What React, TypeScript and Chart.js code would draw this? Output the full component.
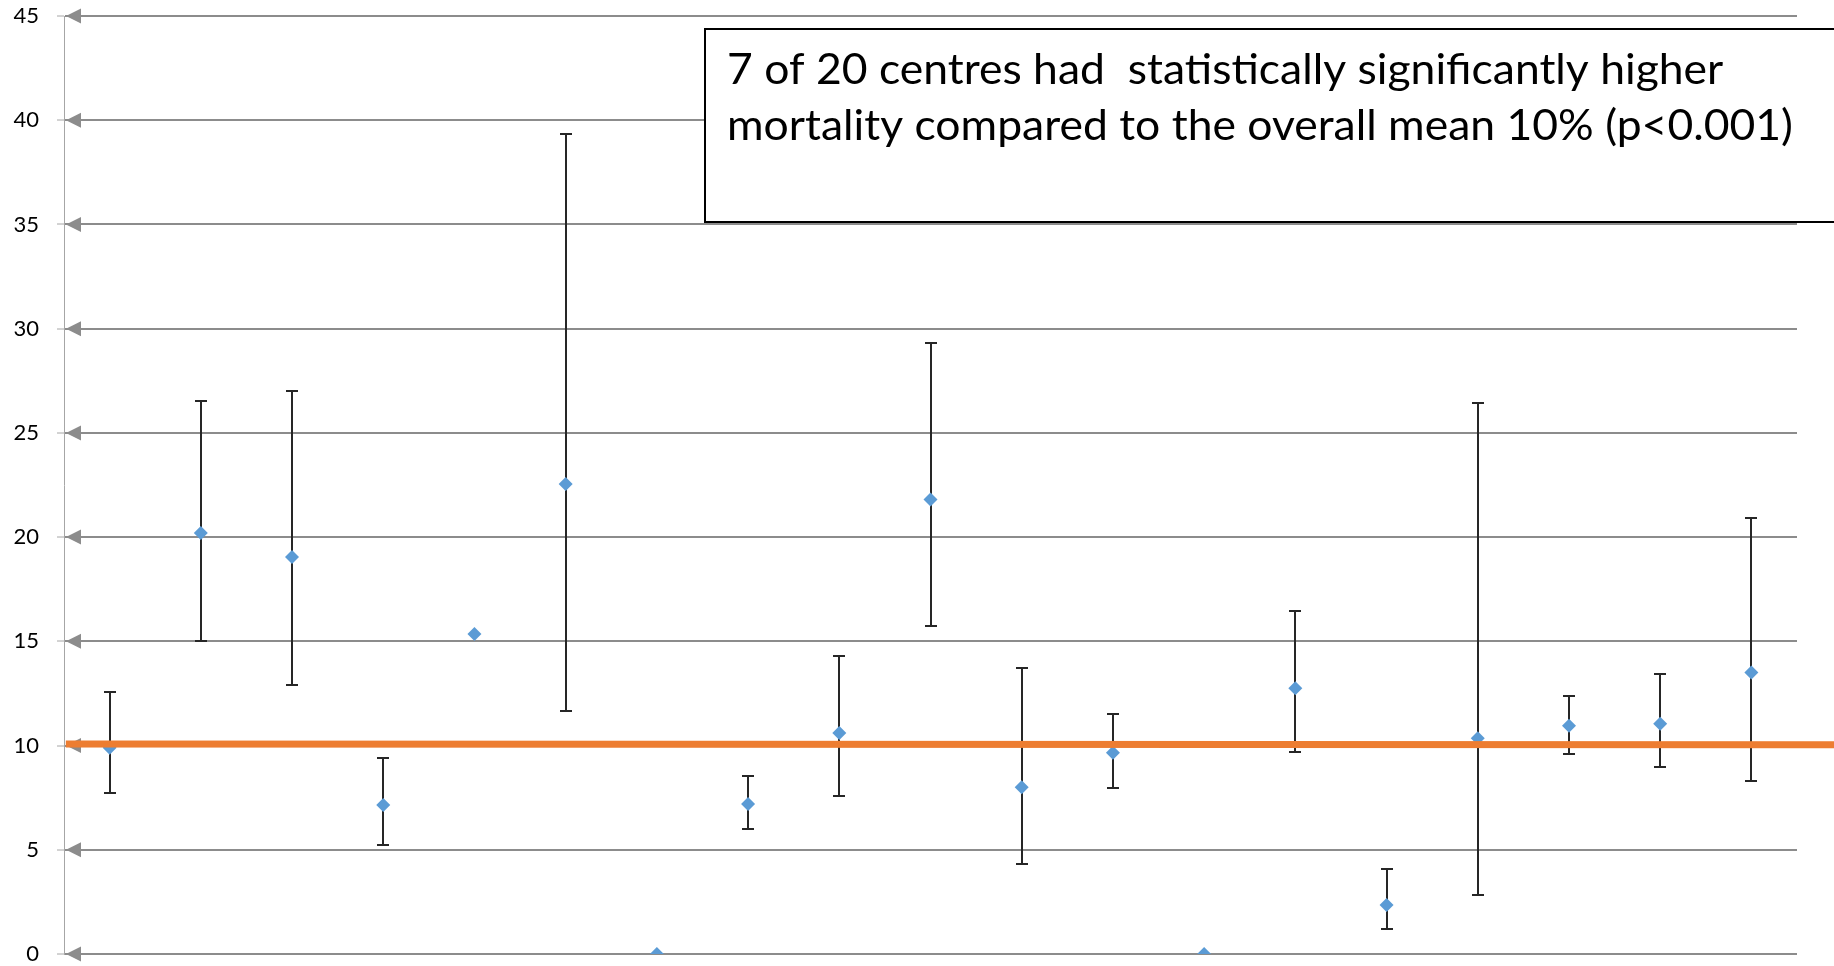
import React, { useEffect, useRef } from 'react';
import { Chart, registerables } from 'chart.js';

Chart.register(...registerables);

// ---- data ----
const centres = ['1', '2', '3', '4', '5', '6', '7', '8', '9', '10', '11', '12', '13', '14', '15', '16', '17', '18', '19'];
const mortality = [9.9, 20.2, 19.05, 7.15, 15.35, 22.55, 0, 7.2, 10.6, 21.8, 8.0, 9.65, 0, 12.75, 2.35, 10.35, 10.95, 11.05, 13.5];
const ciLower = [7.7, 15.0, 12.9, 5.25, null, 11.65, null, 6.0, 7.6, 15.75, 4.3, 7.95, null, 9.7, 1.2, 2.85, 9.6, 8.95, 8.3];
const ciUpper = [12.55, 26.55, 27.0, 9.4, null, 39.35, null, 8.55, 14.3, 29.3, 13.7, 11.5, null, 16.45, 4.1, 26.45, 12.4, 13.45, 20.9];
const overallMean = [10.08, 10.04];
const yTickValues = [0, 5, 10, 15, 20, 25, 30, 35, 40, 45];
const noteLines = [
  '7 of 20 centres had  statistically significantly higher',
  'mortality compared to the overall mean 10% (p<0.001)',
];

const FONT = 'Lato, "Open Sans", sans-serif';

const axisArrows = {
  id: 'axisArrows',
  beforeDatasetsDraw(chart: any) {
    const { ctx, chartArea, scales } = chart;
    const y = scales.y;
    ctx.save();
    ctx.fillStyle = '#8c8c8c';
    for (const t of y.ticks) {
      const py = y.getPixelForValue(t.value);
      ctx.beginPath();
      ctx.moveTo(chartArea.left + 2, py);
      ctx.lineTo(chartArea.left + 17, py - 7.5);
      ctx.lineTo(chartArea.left + 17, py + 7.5);
      ctx.closePath();
      ctx.fill();
    }
    ctx.restore();
  },
};

const errorBars = {
  id: 'errorBars',
  beforeDatasetsDraw(chart: any) {
    const { ctx, scales } = chart;
    const x = scales.x;
    const y = scales.y;
    ctx.save();
    ctx.strokeStyle = '#262626';
    ctx.lineWidth = 2;
    for (let i = 0; i < centres.length; i++) {
      const lo = ciLower[i];
      const hi = ciUpper[i];
      if (lo == null || hi == null) continue;
      const px = Math.round(x.getPixelForValue(i + 0.5));
      const pLo = Math.round(y.getPixelForValue(lo));
      const pHi = Math.round(y.getPixelForValue(hi));
      ctx.beginPath();
      ctx.moveTo(px, pHi);
      ctx.lineTo(px, pLo);
      ctx.moveTo(px - 6, pHi);
      ctx.lineTo(px + 6, pHi);
      ctx.moveTo(px - 6, pLo);
      ctx.lineTo(px + 6, pLo);
      ctx.stroke();
    }
    ctx.restore();
  },
};

const noteBox = {
  id: 'noteBox',
  afterDraw(chart: any) {
    const { ctx } = chart;
    const left = 705;
    const top = 29;
    const bottom = 222;
    const right = chart.width + 10;
    ctx.save();
    ctx.fillStyle = '#ffffff';
    ctx.fillRect(left, top, right - left, bottom - top);
    ctx.strokeStyle = '#000000';
    ctx.lineWidth = 2;
    ctx.strokeRect(left, top, right - left, bottom - top);
    const size = 43;
    ctx.font = `${size}px ${FONT}`;
    const w = ctx.measureText(noteLines[1]).width;
    const sx = 1066 / w;
    ctx.fillStyle = '#000000';
    ctx.textBaseline = 'alphabetic';
    ctx.textAlign = 'left';
    ctx.translate(727, 0);
    ctx.scale(sx, 1);
    ctx.fillText(noteLines[0], 0, 84);
    ctx.fillText(noteLines[1], 0, 140);
    ctx.restore();
  },
};

export default function App() {
  const ref = useRef<HTMLCanvasElement>(null);
  useEffect(() => {
    if (!ref.current) return;
    const chart = new Chart(ref.current, {
      type: 'scatter',
      data: {
        datasets: [
          {
            type: 'line',
            label: 'Overall mean',
            data: [
              { x: 0.02, y: overallMean[0] },
              { x: 20, y: overallMean[1] },
            ],
            borderColor: '#ED7D31',
            borderWidth: 7,
            pointRadius: 0,
            clip: false as any,
            order: 0,
          } as any,
          {
            label: 'Mortality',
            data: mortality.map((v, i) => ({ x: i + 0.5, y: v })),
            backgroundColor: '#5B9BD5',
            borderColor: '#5B9BD5',
            borderWidth: 0,
            pointStyle: 'rectRot',
            pointRadius: 7,
            order: 1,
          },
        ],
      },
      options: {
        animation: false,
        responsive: true,
        maintainAspectRatio: false,
        devicePixelRatio: 1,
        events: [],
        layout: { padding: { left: 0, right: 37, top: 16, bottom: 12 } },
        plugins: { legend: { display: false }, tooltip: { enabled: false } },
        scales: {
          x: { type: 'linear', min: 0, max: centres.length, display: false },
          y: {
            min: 0,
            max: 45,
            afterFit: (s: any) => {
              s.width = 64;
              s.paddingTop = 0;
              s.paddingBottom = 0;
            },
            afterBuildTicks: (s: any) => {
              s.ticks = yTickValues.map((v) => ({ value: v }));
            },
            ticks: {
              padding: 18,
              color: '#000000',
              font: { family: FONT, size: 22 },
            },
            grid: {
              color: '#8c8c8c',
              lineWidth: 2,
              tickColor: '#a6a6a6',
              tickWidth: 1,
              tickLength: 7,
              drawTicks: true,
            },
            border: { display: true, color: '#a6a6a6', width: 1 },
          },
        },
      },
      plugins: [axisArrows, errorBars, noteBox],
    });
    return () => chart.destroy();
  }, []);
  return (
    <div style={{ position: 'fixed', left: 0, top: 0, width: '1834px', height: '966px', background: '#fff' }}>
      <canvas ref={ref} />
    </div>
  );
}
